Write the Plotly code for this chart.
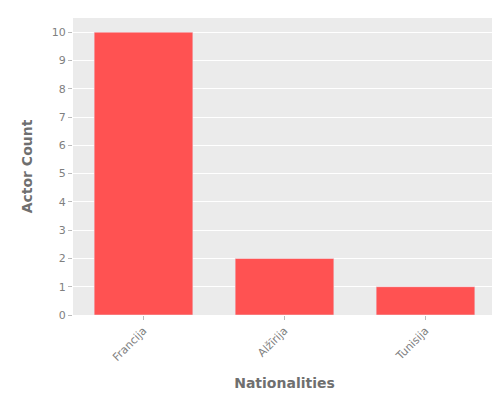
import plotly.graph_objects as go

nationalities = ["Francija", "Alžīrija", "Tunisija"]
actor_counts = [10, 2, 1]

fig = go.Figure()
fig.add_bar(x=nationalities, y=actor_counts, marker_color="#FF5252", width=0.7)

fig.update_layout(
    width=500, height=400,
    margin=dict(l=65, r=12, t=10, b=93),
    plot_bgcolor="#EBEBEB", paper_bgcolor="white",
    font=dict(family="DejaVu Sans", size=11, color="#7F7F7F"),
    showlegend=False,
)
fig.update_xaxes(
    title=dict(text="Nationalities", font=dict(size=14, color="#6F6F6F", weight="bold")),
    tickangle=-45, showgrid=False, ticks="outside", ticklen=4, tickcolor="#BBBBBB",
)
fig.update_yaxes(
    title=dict(text="Actor Count", font=dict(size=14, color="#6F6F6F", weight="bold")),
    range=[0, 10.5], dtick=1, gridcolor="white", zeroline=False,
    ticks="outside", ticklen=4, tickcolor="#BBBBBB",
)
fig.write_html("out.html")
